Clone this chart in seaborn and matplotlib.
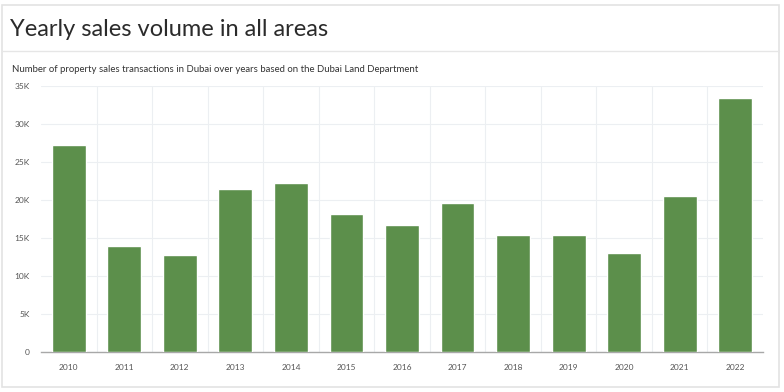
import numpy as np
import pandas as pd
import matplotlib
matplotlib.use("Agg")
import matplotlib.pyplot as plt
import seaborn as sns
from matplotlib.ticker import FuncFormatter, FixedLocator
from matplotlib.patches import Rectangle
from matplotlib.lines import Line2D

# ============================================================
# Data
# ============================================================
years = ["2010", "2011", "2012", "2013", "2014", "2015", "2016",
         "2017", "2018", "2019", "2020", "2021", "2022"]
sales = [27200, 14000, 12800, 21400, 22200, 18200, 16700,
         19600, 15400, 15400, 13000, 20500, 33400]

df = pd.DataFrame({"year": years, "sales": sales})

# ============================================================
# Figure / card
# ============================================================
sns.set_style("white")
plt.rcParams['font.family'] = ['Lato', 'DejaVu Sans']

fig = plt.figure(figsize=(7.84, 3.92), dpi=100)
fig.patch.set_facecolor("white")

# card border and header separator
fig.add_artist(Rectangle((1.5 / 784, 1 - 387 / 392), 777 / 784, 382 / 392,
                         transform=fig.transFigure, fill=False,
                         edgecolor="#e3e3e3", linewidth=1.2))
fig.add_artist(Line2D([1.5 / 784, 778.5 / 784], [1 - 51 / 392, 1 - 51 / 392],
                      transform=fig.transFigure, color="#e6e6e6", linewidth=1))

fig.text(10 / 784, 1 - 29 / 392, "Yearly sales volume in all areas",
         fontsize=17, color="#2b2b2b", va="center", ha="left")
fig.text(12 / 784, 1 - 69 / 392,
         "Number of property sales transactions in Dubai over years based on the Dubai Land Department",
         fontsize=6.9, color="#333333", va="center", ha="left")

# ============================================================
# Bars
# ============================================================
ax = fig.add_axes([41 / 784, 1 - 352 / 392, 722 / 784, 266 / 392])
sns.barplot(data=df, x="year", y="sales", color="#5c8f4b", width=0.61,
            saturation=1, ax=ax, zorder=3)

ax.set_ylim(0, 35000)
ax.set_xlim(-0.5, len(years) - 0.5)
ax.set_yticks(np.arange(0, 35001, 5000))
ax.yaxis.set_major_formatter(FuncFormatter(lambda v, p: "0" if v == 0 else f"{int(v / 1000)}K"))
ax.xaxis.set_minor_locator(FixedLocator(np.arange(0.5, len(years) - 0.5, 1)))

ax.grid(axis="y", which="major", color="#eceff2", linewidth=0.8, zorder=0)
ax.grid(axis="x", which="minor", color="#eceff2", linewidth=0.8, zorder=0)
ax.set_axisbelow(True)

ax.set_xlabel("")
ax.set_ylabel("")
for s in ["top", "right", "left"]:
    ax.spines[s].set_visible(False)
ax.spines["bottom"].set_color("#a8a8a8")
ax.spines["bottom"].set_linewidth(1)

ax.tick_params(axis="both", which="both", length=0, labelsize=6, labelcolor="#555555")
ax.tick_params(axis="x", pad=9)
ax.tick_params(axis="y", pad=8)

fig.savefig("out.png", dpi=100, facecolor="white")
